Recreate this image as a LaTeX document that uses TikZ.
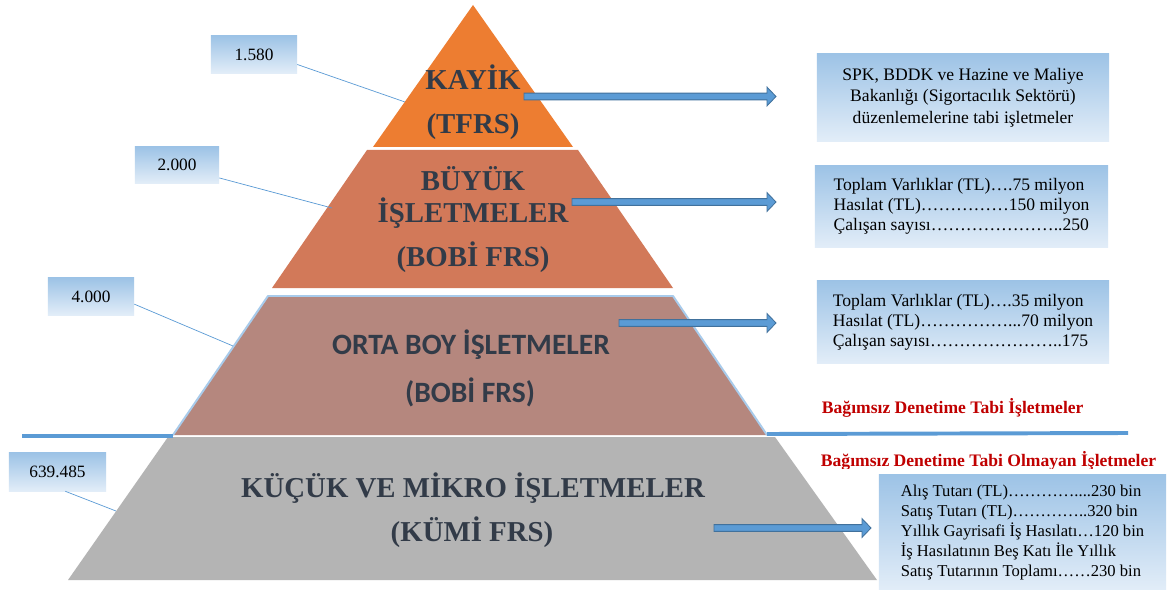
\documentclass[tikz,border=0pt]{standalone}
\usepackage{fontspec}
\setmainfont{Liberation Serif}
\newfontfamily\calibri{Carlito}
\usepackage{xcolor}
\usetikzlibrary{shapes,arrows,positioning,calc}

\definecolor{kayik}{HTML}{ED7D31}
\definecolor{buyuk}{HTML}{D27959}
\definecolor{orta}{HTML}{B5877E}
\definecolor{kucuk}{HTML}{B4B4B4}
\definecolor{titletext}{HTML}{323B48}
\definecolor{accent}{HTML}{5B9BD5}
\definecolor{accentdark}{HTML}{41719C}
\definecolor{edgeblue}{HTML}{A8CBEB}
\definecolor{boxtop}{HTML}{9DC3E6}
\definecolor{boxbot}{HTML}{E2EDF8}
\definecolor{auditred}{HTML}{C00000}

\begin{document}
\begin{tikzpicture}[
    x=0.025cm, y=-0.025cm,
    title/.style={anchor=base, text=titletext, font=\fontsize{20.5}{24}\selectfont\bfseries},
    sanstitle/.style={anchor=base, text=titletext, font=\calibri\fontsize{21}{24}\selectfont\bfseries},
    infobox/.style={rectangle, inner sep=0pt, top color=boxtop, bottom color=boxbot, font=\fontsize{12.5}{14.2}\selectfont},
    valbox/.style={rectangle, inner sep=0pt, top color=boxtop, bottom color=boxbot, font=\fontsize{12.3}{14}\selectfont},
    leader/.style={draw=accent, line width=0.5pt},
    divider/.style={draw=accent, line width=2.8pt},
    redlabel/.style={anchor=base west, text=auditred, font=\fontsize{12.5}{14}\selectfont\bfseries},
    blockarrow/.style={draw=accentdark, fill=accent, line width=0.6pt,
        to path={($(\tikztostart)+(0,-3.4)$) -- ($(\tikztotarget)+(-9,-3.4)$) -- ($(\tikztotarget)+(-9,-9.4)$) -- (\tikztotarget) -- ($(\tikztotarget)+(-9,9.4)$) -- ($(\tikztotarget)+(-9,3.4)$) -- ($(\tikztostart)+(0,3.4)$) -- cycle}}
]
    \fill[white] (0,0) rectangle (1168,590);
    \useasboundingbox (0,0) rectangle (1168,590);

    % pyramid tiers
    \fill[kayik] (473,5) -- (573,147) -- (373,147) -- cycle;
    \fill[buyuk] (367,150) -- (578,150) -- (673,288) -- (272,288) -- cycle;
    \fill[orta] (268,296) -- (673,296) -- (767,435) -- (173,435) -- cycle;
    \draw[edgeblue, line width=1.4pt, line join=round] (173,435) -- (268,296) -- (673,296) -- (767,435);
    \fill[kucuk] (168,437) -- (775,437) -- (877,580) -- (68,580) -- cycle;

    % audit border
    \draw[divider] (22,436) -- (173,436);
    \draw[divider] (767,434) -- (1128,433);

    \node[title] (kayik) at (473,90) {KAYİK};
    \node[title] (tfrs) at (473,134) {(TFRS)};
    \node[title] (buyuk) at (473,191) {BÜYÜK};
    \node[title] (buyukisl) at (473,223) {İŞLETMELER};
    \node[title] (bobi1) at (473,267) {(BOBİ FRS)};
    \node[sanstitle] (orta) at (471,354) {ORTA BOY İŞLETMELER};
    \node[sanstitle] (bobi2) at (470,402) {(BOBİ FRS)};
    \node[title] (kucuk) at (473,497) {KÜÇÜK VE MİKRO İŞLETMELER};
    \node[title] (kumi) at (472,541) {(KÜMİ FRS)};

    % counts
    \node[valbox, minimum width=2.15cm, minimum height=0.925cm] (v1) at (254,54.5) {1.580};
    \node[valbox, minimum width=2.1cm, minimum height=0.9cm] (v2) at (177,165) {2.000};
    \node[valbox, minimum width=2.15cm, minimum height=0.925cm] (v3) at (91,296.5) {4.000};
    \node[valbox, minimum width=2.425cm, minimum height=0.95cm] (v4) at (57.5,472) {639.485};
    \coordinate (e1) at (405,102);
    \coordinate (e2) at (332,208);
    \coordinate (e3) at (233,346);
    \coordinate (e4) at (116,511);
    \draw[leader] (v1.-13) -- (e1);
    \draw[leader] (v2.-17) -- (e2);
    \draw[leader] (v3.-10) -- (e3);
    \draw[leader] (v4.-68) -- (e4);

    % criteria
    \node[infobox, minimum width=7.3cm, minimum height=2.175cm, align=center, font=\fontsize{12.5}{15.3}\selectfont] (spk) at (963,97.5)
        {SPK, BDDK ve Hazine ve Maliye\\Bakanlığı (Sigortacılık Sektörü)\\düzenlemelerine tabi işletmeler};
    \node[infobox, minimum width=7.325cm, minimum height=2.025cm, align=left] (large) at (961.5,206.5)
        {Toplam Varlıklar (TL)….75 milyon\\Hasılat (TL)……………150 milyon\\Çalışan sayısı…………………..250};
    \node[infobox, minimum width=7.3cm, minimum height=2.05cm, align=left] (medium) at (963,322)
        {Toplam Varlıklar (TL)….35 milyon\\Hasılat (TL)……………...70 milyon\\Çalışan sayısı…………………..175};
    \node[infobox, minimum width=7.175cm, minimum height=2.875cm, align=left, font=\fontsize{11.8}{14.2}\selectfont] (small) at (1022.5,532.5)
        {Alış Tutarı (TL)…………....230 bin\\Satış Tutarı (TL)…………..320 bin\\Yıllık Gayrisafi İş Hasılatı…120 bin\\İş Hasılatının Beş Katı İle Yıllık\\Satış Tutarının Toplamı……230 bin};

    \node[redlabel] (audited) at (817,413) {Bağımsız Denetime Tabi İşletmeler};
    \begin{scope}
        \clip (790,440) rectangle (1168,468);
        \node[redlabel] (unaudited) at (816,466) {Bağımsız Denetime Tabi Olmayan İşletmeler};
    \end{scope}

    % arrows
    \coordinate (a1s) at (524,96.5);
    \coordinate (a1e) at (776,96.5);
    \coordinate (a2s) at (572,202);
    \coordinate (a2e) at (776,202);
    \coordinate (a3s) at (619,323);
    \coordinate (a3e) at (776,323);
    \coordinate (a4s) at (714,528);
    \coordinate (a4e) at (871,528);
    \draw[blockarrow] (a1s) to (a1e);
    \draw[blockarrow] (a2s) to (a2e);
    \draw[blockarrow] (a3s) to (a3e);
    \draw[blockarrow] (a4s) to (a4e);
\end{tikzpicture}
\end{document}
